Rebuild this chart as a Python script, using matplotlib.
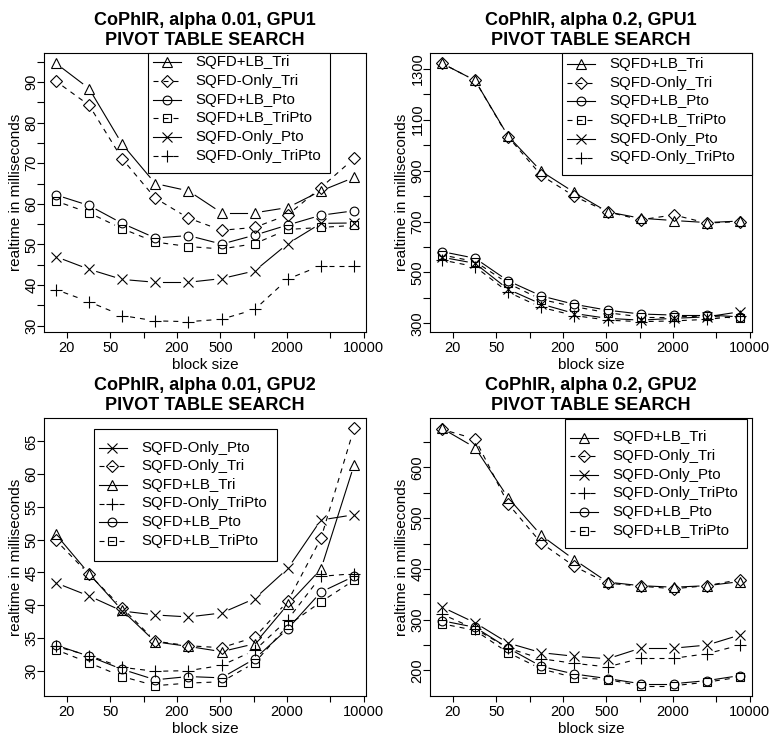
import numpy as np
import matplotlib
matplotlib.use('Agg')
import matplotlib.pyplot as plt
from matplotlib.lines import Line2D
from matplotlib.patches import Rectangle
from matplotlib.ticker import NullLocator

plt.rcParams['font.family'] = ['Liberation Sans', 'DejaVu Sans']

W, H = 772, 737

# ---------------- data ----------------
block_sizes = [16, 32, 64, 128, 256, 512, 1024, 2048, 4096, 8192]

# Panel 1: CoPhIR, alpha 0.01, GPU1
p1_lb_tri      = [94.6, 88.4, 74.7, 65.0, 63.2, 57.8, 57.8, 59.1, 63.2, 66.5]
p1_only_tri    = [90.2, 84.3, 71.1, 61.4, 56.5, 53.5, 54.2, 57.3, 64.0, 71.2]
p1_lb_pto      = [62.2, 59.6, 55.2, 51.6, 52.2, 50.1, 52.3, 54.8, 57.2, 58.3]
p1_lb_tripto   = [60.7, 57.8, 53.9, 50.6, 49.5, 48.9, 50.2, 53.7, 54.2, 54.7]
p1_only_pto    = [47.0, 43.9, 41.4, 40.7, 40.7, 41.6, 43.5, 50.2, 55.2, 55.3]
p1_only_tripto = [38.9, 35.9, 32.5, 31.2, 31.0, 31.6, 34.0, 41.5, 44.8, 44.8]

# Panel 2: CoPhIR, alpha 0.2, GPU1
p2_lb_tri      = [1321, 1254, 1035, 897, 814, 738, 713, 704, 696, 702]
p2_only_tri    = [1321, 1254, 1032, 881, 799, 738, 707, 726, 694, 700]
p2_lb_pto      = [582, 556, 467, 408, 375, 352, 337, 333, 333, 326]
p2_lb_tripto   = [569, 543, 457, 394, 366, 342, 326, 326, 329, 320]
p2_only_pto    = [560, 536, 434, 376, 339, 320, 313, 320, 326, 346]
p2_only_tripto = [549, 523, 423, 363, 331, 313, 307, 310, 316, 329]

# Panel 3: CoPhIR, alpha 0.01, GPU2
p3_only_pto    = [43.4, 41.4, 39.1, 38.5, 38.2, 38.8, 41.0, 45.6, 53.0, 53.8]
p3_only_tri    = [49.9, 44.7, 39.6, 34.5, 33.8, 33.5, 35.1, 40.6, 50.2, 67.0]
p3_lb_tri      = [50.8, 44.8, 39.2, 34.4, 33.7, 32.9, 34.1, 40.1, 45.5, 61.4]
p3_only_tripto = [33.7, 32.3, 30.5, 29.9, 30.0, 30.8, 33.1, 37.8, 44.4, 44.8]
p3_lb_pto      = [33.9, 32.2, 30.2, 28.6, 29.1, 28.9, 31.8, 36.4, 42.0, 44.4]
p3_lb_tripto   = [33.2, 31.2, 29.1, 27.7, 28.1, 28.3, 31.2, 36.9, 40.5, 43.8]

# Panel 4: CoPhIR, alpha 0.2, GPU2
p4_lb_tri      = [677, 639, 540, 466, 418, 374, 367, 364, 367, 375]
p4_only_tri    = [675, 656, 528, 451, 405, 372, 366, 361, 367, 379]
p4_only_pto    = [325, 294, 254, 235, 228, 223, 244, 244, 250, 270]
p4_only_tripto = [311, 282, 244, 223, 214, 207, 224, 224, 233, 250]
p4_lb_pto      = [298, 285, 244, 208, 193, 184, 174, 174, 180, 190]
p4_lb_tripto   = [292, 279, 235, 203, 186, 182, 170, 170, 177, 187]

titles = ["CoPhIR, alpha 0.01, GPU1", "CoPhIR, alpha 0.2, GPU1",
          "CoPhIR, alpha 0.01, GPU2", "CoPhIR, alpha 0.2, GPU2"]
subtitle = "PIVOT TABLE SEARCH"
xlabel = "block size"
ylabel = "realtime in milliseconds"

x_ticks = [20, 50, 100, 200, 500, 1000, 2000, 5000, 10000]
x_ticklabels = ['20', '50', '', '200', '500', '', '2000', '', '10000']

p1_yticks = [30, 35, 40, 45, 50, 55, 60, 65, 70, 75, 80, 85, 90, 95]
p1_ylabels = ['30', '', '40', '', '50', '', '60', '', '70', '', '80', '', '90', '']
p2_yticks = [300, 400, 500, 600, 700, 800, 900, 1000, 1100, 1200, 1300]
p2_ylabels = ['300', '', '500', '', '700', '', '900', '', '1100', '', '1300']
p3_yticks = [30, 35, 40, 45, 50, 55, 60, 65]
p3_ylabels = ['30', '35', '40', '45', '50', '55', '60', '65']
p4_yticks = [200, 250, 300, 350, 400, 450, 500, 550, 600, 650]
p4_ylabels = ['200', '', '300', '', '400', '', '500', '', '600', '']

STYLE = {
    'SQFD+LB_Tri':      dict(marker='^', ms=7.5, dashed=False),
    'SQFD-Only_Tri':    dict(marker='D', ms=5.8, dashed=True),
    'SQFD+LB_Pto':      dict(marker='o', ms=6.3, dashed=False),
    'SQFD+LB_TriPto':   dict(marker='s', ms=5.8, dashed=True),
    'SQFD-Only_Pto':    dict(marker='x', ms=7.2, dashed=False),
    'SQFD-Only_TriPto': dict(marker='+', ms=8.5, dashed=True),
}

panels = [
    dict(series=[('SQFD+LB_Tri', p1_lb_tri), ('SQFD-Only_Tri', p1_only_tri),
                 ('SQFD+LB_Pto', p1_lb_pto), ('SQFD+LB_TriPto', p1_lb_tripto),
                 ('SQFD-Only_Pto', p1_only_pto), ('SQFD-Only_TriPto', p1_only_tripto)],
         yticks=p1_yticks, ylabels=p1_ylabels,
         box=(44, 53, 366, 332), legend=(148, 53, 330, 173, 62.3, 18.7)),
    dict(series=[('SQFD+LB_Tri', p2_lb_tri), ('SQFD-Only_Tri', p2_only_tri),
                 ('SQFD+LB_Pto', p2_lb_pto), ('SQFD+LB_TriPto', p2_lb_tripto),
                 ('SQFD-Only_Pto', p2_only_pto), ('SQFD-Only_TriPto', p2_only_tripto)],
         yticks=p2_yticks, ylabels=p2_ylabels,
         box=(430, 53, 752, 332), legend=(562, 53, 752, 175, 64.0, 18.7)),
    dict(series=[('SQFD-Only_Pto', p3_only_pto), ('SQFD-Only_Tri', p3_only_tri),
                 ('SQFD+LB_Tri', p3_lb_tri), ('SQFD-Only_TriPto', p3_only_tripto),
                 ('SQFD+LB_Pto', p3_lb_pto), ('SQFD+LB_TriPto', p3_lb_tripto)],
         yticks=p3_yticks, ylabels=p3_ylabels,
         box=(44, 418, 366, 696), legend=(94, 429, 277, 561, 448.0, 18.5)),
    dict(series=[('SQFD+LB_Tri', p4_lb_tri), ('SQFD-Only_Tri', p4_only_tri),
                 ('SQFD-Only_Pto', p4_only_pto), ('SQFD-Only_TriPto', p4_only_tripto),
                 ('SQFD+LB_Pto', p4_lb_pto), ('SQFD+LB_TriPto', p4_lb_tripto)],
         yticks=p4_yticks, ylabels=p4_ylabels,
         box=(430, 418, 752, 696), legend=(565, 419, 747, 548, 437.5, 18.6)),
]

LW = 0.8
DASH = (0, (4.5, 4.5))
GAP = 8.0  # pixel gap around points (R type="b")

fig = plt.figure(figsize=(W / 100, H / 100), dpi=100)
fig.patch.set_facecolor('white')


def fx(px):
    return px / W


def fy(py):
    return 1 - py / H


for i, p in enumerate(panels):
    l, t, r, b = p['box']
    ax = fig.add_axes([fx(l), fy(b), (r - l) / W, (b - t) / H])
    ax.set_xscale('log')
    # R style limits: 4% extension
    lx = np.log10(block_sizes)
    span = lx.max() - lx.min()
    ax.set_xlim(10 ** (lx.min() - 0.04 * span), 10 ** (lx.max() + 0.04 * span))
    allv = np.concatenate([np.asarray(v, float) for _, v in p['series']])
    ys = allv.max() - allv.min()
    ax.set_ylim(allv.min() - 0.04 * ys, allv.max() + 0.04 * ys)

    for name, vals in p['series']:
        st = STYLE[name]
        ax.plot(block_sizes, vals, linestyle='none', marker=st['marker'], ms=st['ms'],
                mfc='none', mec='black', mew=LW, clip_on=False, zorder=3)
        pts = ax.transData.transform(np.column_stack([block_sizes, vals]))
        inv = ax.transData.inverted()
        for k in range(len(pts) - 1):
            p0, p1 = pts[k], pts[k + 1]
            d = p1 - p0
            L = np.hypot(*d)
            if L <= 2 * GAP:
                continue
            u = d / L
            seg = inv.transform(np.array([p0 + u * GAP, p1 - u * GAP]))
            ax.plot(seg[:, 0], seg[:, 1], color='black', lw=LW,
                    linestyle=DASH if st['dashed'] else 'solid', zorder=2)

    ax.xaxis.set_minor_locator(NullLocator())
    ax.set_xticks(x_ticks)
    ax.set_xticklabels(x_ticklabels)
    ax.set_yticks(p['yticks'])
    ax.set_yticklabels(p['ylabels'])
    ax.tick_params(axis='x', length=4.3, width=LW, pad=2, labelsize=10.5)
    ax.tick_params(axis='y', length=5, width=LW, pad=-1, labelsize=10.5, labelrotation=90)
    for lab in ax.get_yticklabels():
        lab.set_va('center')
    for s in ax.spines.values():
        s.set_linewidth(LW)

    ax.set_xlabel(xlabel, fontsize=11)
    ax.xaxis.set_label_coords(0.5, -26.0 / (b - t))
    ax.xaxis.label.set_va('top')
    ax.set_ylabel(ylabel, fontsize=11)
    ax.yaxis.set_label_coords(-21.0 / (r - l), 0.5)

    cx = (l + r) / 2
    fig.text(fx(cx), fy(t - 28), titles[i], ha='center', va='baseline',
             fontsize=13, fontweight='bold')
    fig.text(fx(cx), fy(t - 8), subtitle, ha='center', va='baseline',
             fontsize=13, fontweight='bold')

    # legend (R style)
    bl, bt, br, bb, first, step = p['legend']
    rect = Rectangle((fx(bl), fy(bb)), (br - bl) / W, (bb - bt) / H,
                     transform=fig.transFigure, facecolor='white',
                     edgecolor='black', lw=LW, zorder=5)
    fig.add_artist(rect)
    for j, (name, _) in enumerate(p['series']):
        st = STYLE[name]
        yy = first + j * step
        lc = bl + 18.5
        fig.add_artist(Line2D([fx(lc - 14), fx(lc + 14)], [fy(yy), fy(yy)],
                              transform=fig.transFigure, color='black', lw=LW,
                              linestyle=DASH if st['dashed'] else 'solid', zorder=6))
        fig.add_artist(Line2D([fx(lc)], [fy(yy)], transform=fig.transFigure,
                              linestyle='none', marker=st['marker'], ms=st['ms'],
                              mfc='none', mec='black', mew=LW, zorder=7))
        fig.text(fx(bl + 47), fy(yy), name, ha='left', va='center',
                 fontsize=10.8, zorder=7)

fig.savefig('out.png', dpi=100, facecolor='white')
